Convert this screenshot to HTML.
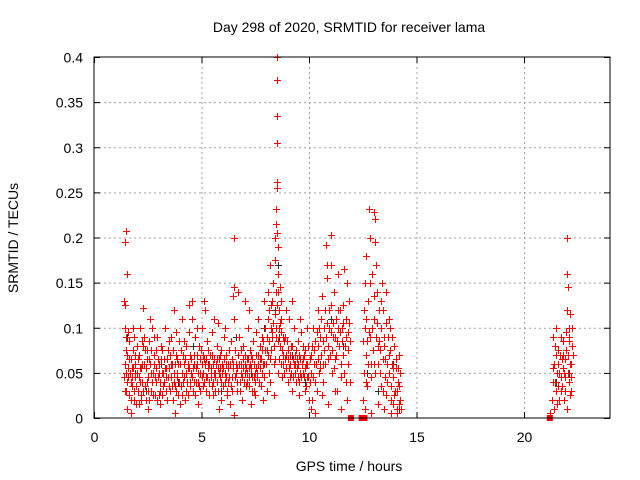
<!DOCTYPE html>
<html><head><meta charset="utf-8"><style>
html,body{margin:0;padding:0;background:#fff;}
svg{display:block;font-family:"Liberation Sans",sans-serif;}
</style></head><body>
<svg id="chart" width="640" height="480" viewBox="0 0 640 480" xmlns="http://www.w3.org/2000/svg">
<rect width="640" height="480" fill="#fff"/>
<text x="349" y="32" font-size="14" text-anchor="middle">Day 298 of 2020, SRMTID for receiver lama</text>
<text x="349" y="471" font-size="14" text-anchor="middle">GPS time / hours</text>
<text x="0" y="0" font-size="14" text-anchor="middle" transform="translate(18,238) rotate(-90)">SRMTID / TECUs</text>
<g id="grid"></g>
<g id="ticks"></g>
<g id="black"></g>
<g id="red"></g>
<rect x="94" y="57" width="516" height="361" fill="none" stroke="#000" stroke-width="1"/>
</svg>
<script>
const xTicks=[0,5,10,15,20];
const yTicks=[0,0.05,0.1,0.15,0.2,0.25,0.3,0.35,0.4];
const yTickLabels=["0","0.05","0.1","0.15","0.2","0.25","0.3","0.35","0.4"];
const redSeries=[
[1.4,0.13],[1.42,0.125],[1.45,0.195],[1.5,0.207],[1.52,0.16],[1.45,0.1],[1.5,0.09],[1.55,0.07],[1.48,0.05],[1.5,0.03],[1.55,0.01],[1.6,0.045],[1.62,0.065],[1.65,0.085],[1.7,0.04],[1.72,0.02],[1.75,0.055],[1.8,0.075],[1.82,0.1],[1.85,0.03],[1.9,0.06],[1.92,0.045],[1.95,0.015],[1.98,0.08],[1.4,0.045],[1.44,0.03],[1.6,0.095],[1.7,0.005],[1.78,0.035],[1.88,0.09],
[2.0,0.05],[2.05,0.03],[2.1,0.07],[2.12,0.1],[2.15,0.04],[2.2,0.02],[2.25,0.06],[2.3,0.122],[2.32,0.09],[2.35,0.035],[2.4,0.055],[2.45,0.075],[2.5,0.01],[2.52,0.045],[2.55,0.085],[2.6,0.06],[2.65,0.03],[2.7,0.1],[2.75,0.05],[2.8,0.07],[2.85,0.025],[2.9,0.04],[2.95,0.09],[3.0,0.06],[3.05,0.015],[3.1,0.08],[3.15,0.05],[3.2,0.035],[3.25,0.065],[3.3,0.1],[3.35,0.045],[3.4,0.02],[3.45,0.075],[3.5,0.055],[3.55,0.03],[3.6,0.09],[3.65,0.06],[3.7,0.04],[3.75,0.005],[3.8,0.07],[3.85,0.05],[3.9,0.025],[3.95,0.085],[4.0,0.06],[4.05,0.035],[4.1,0.11],[4.15,0.07],[4.2,0.045],[4.25,0.02],[4.3,0.08],[4.35,0.055],[4.4,0.095],[4.45,0.04],
[2.08,0.015],[2.28,0.08],[2.48,0.065],[2.68,0.04],[2.88,0.075],[3.08,0.03],[3.28,0.055],[3.48,0.085],[3.68,0.02],[3.88,0.065],[4.08,0.05],[4.28,0.03],[4.48,0.07],[2.18,0.055],[2.58,0.02],[2.98,0.045],[3.38,0.065],[3.78,0.035],[4.18,0.085],[2.78,0.09],[3.18,0.075],[3.58,0.045],[3.98,0.015],[4.38,0.06],[2.62,0.11],[3.72,0.12],[4.42,0.125],[2.22,0.085],[3.02,0.025],[3.82,0.095],
[4.5,0.05],[4.55,0.13],[4.58,0.11],[4.6,0.03],[4.65,0.07],[4.7,0.09],[4.75,0.04],[4.8,0.06],[4.85,0.015],[4.9,0.08],[4.95,0.05],[5.0,0.1],[5.05,0.035],[5.1,0.065],[5.12,0.13],[5.15,0.12],[5.2,0.045],[5.25,0.085],[5.3,0.055],[5.35,0.025],[5.4,0.07],[5.45,0.05],[5.5,0.095],[5.55,0.04],[5.6,0.065],[5.65,0.03],[5.7,0.08],[5.75,0.055],[5.8,0.01],[5.85,0.045],[5.9,0.075],[5.95,0.06],[6.0,0.035],[6.05,0.09],[6.1,0.05],[6.15,0.07],[6.2,0.025],[6.25,0.06],[6.3,0.045],[6.35,0.085],[6.4,0.03],[6.45,0.055],[6.5,0.2],[6.52,0.145],[6.48,0.135],[6.5,0.11],[6.55,0.075],[6.5,0.003],
[4.62,0.055],[4.82,0.04],[5.02,0.06],[5.22,0.03],[5.42,0.045],[5.62,0.05],[5.82,0.065],[6.02,0.055],[6.22,0.04],[6.42,0.065],[4.72,0.025],[4.92,0.065],[5.32,0.075],[5.52,0.06],[5.72,0.04],[5.92,0.02],[6.12,0.06],[6.32,0.015],[5.08,0.05],[5.48,0.035],[5.88,0.055],[6.28,0.075],[4.78,0.1],[5.58,0.11],[5.78,0.105],[6.08,0.1],
[6.6,0.05],[6.65,0.03],[6.7,0.07],[6.75,0.09],[6.8,0.04],[6.85,0.06],[6.9,0.02],[6.95,0.08],[7.0,0.05],[7.05,0.035],[7.1,0.065],[7.15,0.1],[7.2,0.045],[7.25,0.075],[7.3,0.055],[7.35,0.03],[7.4,0.085],[7.45,0.06],[7.5,0.04],[7.55,0.07],[7.6,0.05],[7.65,0.11],[7.7,0.065],[7.75,0.035],[7.8,0.09],[7.85,0.06],[7.9,0.13],[7.95,0.075],[6.7,0.14],[7.0,0.13],[7.2,0.12],[7.5,0.025],[7.3,0.015],[7.85,0.02],[6.62,0.06],[6.82,0.075],[7.02,0.06],[7.22,0.055],[7.42,0.045],[7.62,0.06],[7.82,0.05],[7.12,0.04],[6.92,0.055],[7.72,0.08],[7.52,0.095],[7.32,0.07],[7.92,0.045],
[8.0,0.06],[8.05,0.09],[8.1,0.14],[8.12,0.12],[8.15,0.05],[8.2,0.17],[8.22,0.1],[8.25,0.075],[8.3,0.13],[8.32,0.15],[8.35,0.06],[8.4,0.2],[8.42,0.175],[8.45,0.09],[8.48,0.232],[8.5,0.4],[8.5,0.375],[8.5,0.335],[8.52,0.305],[8.5,0.262],[8.52,0.255],[8.48,0.215],[8.5,0.205],[8.55,0.19],[8.55,0.16],[8.58,0.14],[8.6,0.12],[8.62,0.1],[8.65,0.08],[8.68,0.13],[8.7,0.06],[8.72,0.11],[8.75,0.045],[8.78,0.09],[8.8,0.07],[8.1,0.07],[8.2,0.04],[8.3,0.09],[8.4,0.115],[8.45,0.14],[8.6,0.065],[8.7,0.095],[8.55,0.05],[8.05,0.03],[8.35,0.025],
[8.85,0.05],[8.9,0.09],[8.95,0.07],[9.0,0.04],[9.05,0.11],[9.1,0.06],[9.15,0.08],[9.2,0.03],[9.25,0.065],[9.3,0.1],[9.35,0.05],[9.4,0.075],[9.45,0.055],[9.5,0.085],[9.55,0.04],[9.6,0.065],[9.65,0.095],[9.7,0.05],[9.75,0.07],[9.8,0.03],[9.85,0.06],[9.9,0.045],[9.95,0.08],[10.0,0.02],[8.95,0.12],[9.2,0.13],[9.6,0.11],[9.9,0.1],[9.1,0.045],[9.4,0.04],[9.7,0.065],[9.3,0.06],[9.5,0.06],[9.8,0.055],[9.0,0.065],[9.55,0.025],
[10.05,0.04],[10.1,0.07],[10.15,0.02],[10.2,0.1],[10.25,0.06],[10.3,0.085],[10.35,0.03],[10.4,0.12],[10.45,0.05],[10.5,0.09],[10.55,0.07],[10.6,0.135],[10.65,0.04],[10.7,0.1],[10.75,0.06],[10.8,0.192],[10.82,0.17],[10.85,0.155],[10.9,0.08],[10.95,0.12],[11.0,0.203],[11.02,0.17],[11.05,0.05],[11.1,0.09],[11.15,0.14],[11.2,0.065],[11.25,0.11],[11.3,0.03],[11.35,0.16],[11.4,0.08],[11.45,0.12],[11.5,0.045],[11.55,0.1],[11.6,0.07],[11.65,0.165],[11.7,0.09],[11.75,0.02],[11.8,0.06],[11.85,0.13],[11.9,0.04],[10.1,0.01],[10.3,0.005],[10.6,0.025],[10.9,0.015],[11.2,0.03],[11.5,0.01],[11.7,0.04],[10.4,0.065],[10.7,0.075],[11.0,0.095],[11.3,0.085],[11.6,0.105],[11.8,0.095],
[12.5,0.02],[12.55,0.05],[12.6,0.1],[12.62,0.15],[12.65,0.07],[12.7,0.035],[12.75,0.13],[12.8,0.232],[12.82,0.2],[12.85,0.09],[12.9,0.06],[12.95,0.16],[13.0,0.11],[13.02,0.228],[13.05,0.22],[13.08,0.195],[13.1,0.17],[13.15,0.14],[13.2,0.08],[13.25,0.12],[13.3,0.05],[13.35,0.1],[13.4,0.15],[13.45,0.03],[13.5,0.09],[13.55,0.065],[13.6,0.14],[13.65,0.04],[13.7,0.07],[13.75,0.1],[13.8,0.02],[13.85,0.06],[13.9,0.045],[13.95,0.08],[14.0,0.03],[14.05,0.055],[14.1,0.01],[14.15,0.04],[14.2,0.07],[14.25,0.02],[12.6,0.01],[12.9,0.005],[13.2,0.015],[13.5,0.01],[13.8,0.005],[14.1,0.005],[12.7,0.085],[13.0,0.06],[13.3,0.075],[13.6,0.025],[13.9,0.015],[14.2,0.035],[12.65,0.18],[13.45,0.12],[13.7,0.11],
[21.2,0.005],[21.3,0.02],[21.35,0.09],[21.4,0.06],[21.45,0.04],[21.5,0.1],[21.55,0.015],[21.6,0.075],[21.65,0.05],[21.7,0.03],[21.75,0.065],[21.8,0.085],[21.85,0.02],[21.9,0.045],[21.95,0.095],[22.0,0.2],[22.02,0.16],[22.05,0.145],[22.0,0.12],[22.1,0.1],[22.15,0.115],[22.05,0.07],[22.1,0.04],[22.15,0.025],[22.2,0.06],[22.25,0.08],[21.4,0.01],[21.6,0.035],[21.8,0.055],[22.0,0.01],[21.5,0.07],[21.9,0.065],[22.1,0.085],[21.7,0.09],[22.2,0.03]
];
const redSeriesDense=[
[1.43,0.06],[1.47,0.075],[1.53,0.04],[1.57,0.055],[1.63,0.025],[1.67,0.05],[1.73,0.065],[1.77,0.045],[1.83,0.055],[1.87,0.02],[1.93,0.07],[1.97,0.035],
[2.03,0.065],[2.07,0.045],[2.13,0.055],[2.17,0.025],[2.23,0.04],[2.27,0.03],[2.33,0.06],[2.37,0.075],[2.43,0.02],[2.47,0.04],[2.53,0.03],[2.57,0.065],[2.63,0.05],[2.67,0.075],[2.73,0.025],[2.77,0.06],[2.83,0.045],[2.87,0.055],[2.93,0.02],[2.97,0.065],[3.03,0.05],[3.07,0.04],[3.13,0.065],[3.17,0.025],[3.23,0.05],[3.27,0.04],[3.33,0.03],[3.37,0.055],[3.43,0.045],[3.47,0.035],[3.53,0.07],[3.57,0.06],[3.63,0.035],[3.67,0.075],[3.73,0.05],[3.77,0.06],[3.83,0.03],[3.87,0.045],[3.93,0.06],[3.97,0.04],[4.03,0.075],[4.07,0.025],[4.13,0.04],[4.17,0.06],[4.23,0.065],[4.27,0.05],[4.33,0.04],[4.37,0.025],[4.43,0.055],[4.47,0.035],
[4.53,0.065],[4.57,0.045],[4.63,0.04],[4.67,0.06],[4.73,0.055],[4.77,0.07],[4.83,0.05],[4.87,0.035],[4.93,0.03],[4.97,0.075],[5.03,0.045],[5.07,0.07],[5.13,0.04],[5.17,0.06],[5.23,0.065],[5.27,0.045],[5.33,0.04],[5.37,0.06],[5.43,0.055],[5.47,0.07],[5.53,0.025],[5.57,0.05],[5.63,0.045],[5.67,0.06],[5.73,0.065],[5.77,0.03],[5.83,0.05],[5.87,0.07],[5.93,0.04],[5.97,0.05],[6.03,0.065],[6.07,0.04],[6.13,0.045],[6.17,0.03],[6.23,0.055],[6.27,0.045],[6.33,0.06],[6.37,0.035],[6.43,0.045],[6.47,0.06],
[6.57,0.045],[6.63,0.04],[6.67,0.055],[6.73,0.06],[6.77,0.03],[6.83,0.05],[6.87,0.045],[6.93,0.065],[6.97,0.04],[7.03,0.07],[7.07,0.055],[7.13,0.05],[7.17,0.065],[7.23,0.035],[7.27,0.06],[7.33,0.045],[7.37,0.065],[7.43,0.03],[7.47,0.05],[7.53,0.055],[7.57,0.045],[7.63,0.07],[7.67,0.04],[7.73,0.055],[7.77,0.065],[7.83,0.075],[7.87,0.085],[7.93,0.06],[7.97,0.1],
[8.03,0.075],[8.07,0.11],[8.13,0.085],[8.17,0.065],[8.23,0.125],[8.27,0.095],[8.33,0.105],[8.37,0.08],[8.43,0.065],[8.47,0.1],[8.53,0.125],[8.57,0.085],[8.63,0.145],[8.67,0.105],[8.73,0.075],[8.77,0.06],[8.83,0.085],[8.87,0.065],[8.93,0.055],[8.97,0.085],
[9.03,0.075],[9.07,0.055],[9.13,0.07],[9.17,0.05],[9.23,0.08],[9.27,0.045],[9.33,0.07],[9.37,0.06],[9.43,0.065],[9.47,0.045],[9.53,0.07],[9.57,0.05],[9.63,0.045],[9.67,0.06],[9.73,0.08],[9.77,0.045],[9.83,0.075],[9.87,0.035],[9.93,0.06],[9.97,0.045],
[10.03,0.065],[10.07,0.05],[10.13,0.08],[10.17,0.045],[10.23,0.075],[10.27,0.04],[10.33,0.06],[10.37,0.095],[10.43,0.08],[10.47,0.1],[10.53,0.055],[10.57,0.11],[10.63,0.085],[10.67,0.06],[10.73,0.12],[10.77,0.09],[10.83,0.105],[10.87,0.065],[10.93,0.1],[10.97,0.07],[11.03,0.125],[11.07,0.075],[11.13,0.105],[11.17,0.055],[11.23,0.09],[11.27,0.07],[11.33,0.12],[11.37,0.1],[11.43,0.095],[11.47,0.06],[11.53,0.085],[11.57,0.125],[11.63,0.05],[11.67,0.08],[11.73,0.11],[11.77,0.15],[11.83,0.075],[11.87,0.105],[11.93,0.085],
[12.53,0.085],[12.57,0.12],[12.63,0.04],[12.67,0.11],[12.73,0.06],[12.77,0.095],[12.83,0.15],[12.87,0.045],[12.93,0.1],[12.97,0.075],[13.03,0.135],[13.07,0.05],[13.13,0.09],[13.17,0.105],[13.23,0.06],[13.27,0.085],[13.33,0.035],[13.37,0.13],[13.43,0.065],[13.47,0.08],[13.53,0.045],[13.57,0.105],[13.63,0.06],[13.67,0.09],[13.73,0.05],[13.77,0.075],[13.83,0.035],[13.87,0.09],[13.93,0.055],[13.97,0.025],[14.03,0.065],[14.07,0.03],[14.13,0.055],[14.17,0.015],[14.23,0.05],[14.27,0.01],
[21.33,0.04],[21.37,0.055],[21.43,0.08],[21.47,0.03],[21.53,0.05],[21.57,0.06],[21.63,0.02],[21.67,0.07],[21.73,0.045],[21.77,0.035],[21.83,0.07],[21.87,0.05],[21.93,0.03],[21.97,0.075],[22.03,0.05],[22.07,0.09],[22.13,0.06],[22.17,0.045],[22.23,0.1],[22.27,0.07]
];
const blackSeries=[
[1.55,0.09],[1.9,0.05],[2.4,0.03],[3.1,0.06],[3.9,0.04],[4.6,0.08],[5.3,0.06],[5.9,0.03],[6.6,0.09],[7.3,0.05],[7.9,0.1],[8.4,0.12],[8.55,0.17],[8.6,0.09],[9.2,0.07],[9.8,0.04],[10.5,0.06],[11.0,0.11],[11.6,0.08],[12.7,0.05],[13.2,0.03],[13.9,0.06],[14.2,0.01],[21.5,0.04],[21.9,0.03],[22.1,0.05]
];
const zeroMarks=[[11.95,0],[12.45,0],[12.58,0],[21.2,0]];
const NS="http://www.w3.org/2000/svg";
const X0=94,X1=610,Y0=418,Y1=57,XMAX=24,YMAX=0.4;
function sx(v){return X0+(X1-X0)*v/XMAX;}
function sy(v){return Y0-(Y0-Y1)*v/YMAX;}
function mk(tag,attrs,parent){const e=document.createElementNS(NS,tag);for(const k in attrs)e.setAttribute(k,attrs[k]);parent.appendChild(e);return e;}
const grid=document.getElementById('grid'),ticks=document.getElementById('ticks');
xTicks.forEach(function(t){
  const x=sx(t)+0.5;
  if(t>0){const g=mk('line',{x1:x,x2:x,y1:Y1,y2:Y0,stroke:'#a0a0a0','stroke-dasharray':'2,3'},grid);
  
  }
  const a=mk('path',{d:'M'+x+','+Y0+'v-6M'+x+','+Y1+'v6',stroke:'#000'},ticks);
  
  
  const l=mk('text',{x:x,y:442,'font-size':14,'text-anchor':'middle'},ticks);
  l.textContent=String(t);
  
  
});
yTicks.forEach(function(t,i){
  const y=sy(t)+0.5;
  if(t>0&&t<YMAX){const g=mk('line',{x1:X0,x2:X1,y1:y,y2:y,stroke:'#a0a0a0','stroke-dasharray':'2,3'},grid);
  
  }
  const a=mk('path',{d:'M'+X0+','+y+'h6M'+X1+','+y+'h-6',stroke:'#000'},ticks);
  
  
  const l=mk('text',{x:83,y:y+5,'font-size':14,'text-anchor':'end'},ticks);
  l.textContent=yTickLabels[i];
  
  
});
function plus(p,color,parent,name){
  const x=Math.round(sx(p[0]))+0.5,y=Math.round(sy(p[1]))+0.5;
  const e=mk('path',{d:'M'+(x-3.5)+','+y+'h7M'+x+','+(y-3.5)+'v7',stroke:color,'stroke-width':1,fill:'none'},parent);
  
  
}
const blk=document.getElementById('black'),red=document.getElementById('red');
blackSeries.forEach(function(p){plus(p,'#303030',blk,'black-point');});
redSeries.forEach(function(p){plus(p,'#ff0000',red,'red-point');});
redSeriesDense.forEach(function(p){plus(p,'#ff0000',red,'red-point');});
zeroMarks.forEach(function(p){
  const r=mk('rect',{x:sx(p[0])-3,y:sy(p[1])-3,width:6,height:6,fill:'#ff0000'},red);
  
  
});
</script>
</body></html>
